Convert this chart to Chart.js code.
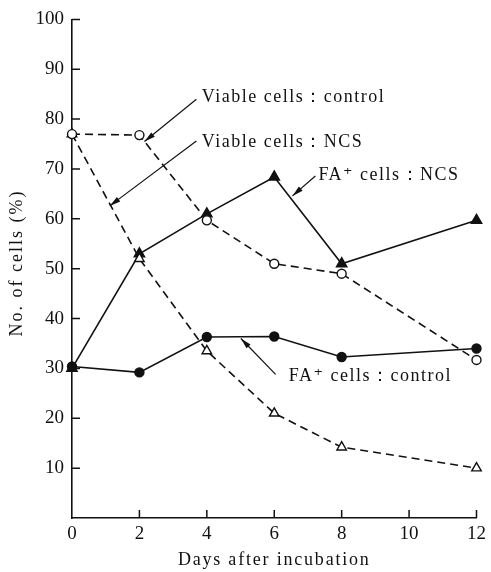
<!DOCTYPE html>
<html><head><meta charset="utf-8">
<script src="https://cdn.jsdelivr.net/npm/chart.js@4/dist/chart.umd.min.js"></script>
<style>html,body{margin:0;padding:0;background:#fff}#wrap{width:491px;height:572px}</style>
</head><body><div id="wrap"><canvas id="c" width="491" height="572"></canvas></div>
<script>
const days = [0, 2, 4, 6, 8, 12];
const viableControl = [77, 76.8, 59.7, 51, 49, 31.7];
const viableNCS = [77, 52, 33.5, 21, 14.2, 10];
const faNCS = [30, 53, 61, 68.4, 51, 59.7];
const faControl = [30.4, 29.2, 36.3, 36.4, 32.3, 34];
const xTicks = [0, 2, 4, 6, 8, 10, 12];
const yTicks = [10, 20, 30, 40, 50, 60, 70, 80, 90, 100];
const labels = ['Viable cells：control', 'Viable cells：NCS', 'FA⁺ cells：NCS', 'FA⁺ cells：control'];
const xTitle = 'Days after incubation';
const yTitle = 'No. of cells (%)';
// annotation anchors in data units: text start, arrow tail, arrow head
const notes = [
  {t: labels[0], tx: 3.85, ty: 84.3, ax: 3.69, ay: 84.0, hx: 2.15, hy: 75.5},
  {t: labels[1], tx: 3.85, ty: 75.3, ax: 3.69, ay: 75.6, hx: 1.12, hy: 62.6},
  {t: labels[2], tx: 7.31, ty: 68.8, ax: 7.22, ay: 68.6, hx: 6.54, hy: 64.6},
  {t: labels[3], tx: 6.43, ty: 28.4, ax: 6.04, ay: 28.8, hx: 5.01, hy: 36.0}
];
const FONT = '"Liberation Serif", "DejaVu Serif", serif';
const pts = arr => days.map((d, i) => ({x: d, y: arr[i]}));

const extras = {
  id: 'extras',
  afterDraw(chart) {
    const ctx = chart.ctx, xs = chart.scales.x, ys = chart.scales.y;
    const ca = chart.chartArea;
    ctx.save();
    ctx.strokeStyle = '#111'; ctx.lineWidth = 1.5;
    // inner ticks
    ctx.beginPath();
    yTicks.forEach(v => { const p = ys.getPixelForValue(v); ctx.moveTo(ca.left, p); ctx.lineTo(ca.left + 8, p); });
    xTicks.forEach(v => { if (v === 0) return; const p = xs.getPixelForValue(v); ctx.moveTo(p, ca.bottom); ctx.lineTo(p, ca.bottom - 8); });
    ctx.stroke();
    ctx.fillStyle = '#111';
    ctx.textBaseline = 'middle';
    // axis titles
    ctx.font = '18px ' + FONT;
    ctx.textAlign = 'center';
    try { ctx.letterSpacing = '1.8px'; } catch (e) {}
    ctx.fillText(xTitle, (ca.left + ca.right) / 2, 560);
    ctx.save();
    ctx.translate(17, 263);
    ctx.rotate(-Math.PI / 2);
    try { ctx.letterSpacing = '2px'; } catch (e) {}
    ctx.fillText(yTitle, 0, 0);
    ctx.restore();
    // annotations
    ctx.font = '18px ' + FONT;
    ctx.textAlign = 'left';
    try { ctx.letterSpacing = '1.5px'; } catch (e) {}
    notes.forEach(n => {
      ctx.fillText(n.t, xs.getPixelForValue(n.tx), ys.getPixelForValue(n.ty));
      const x1 = xs.getPixelForValue(n.ax), y1 = ys.getPixelForValue(n.ay);
      const x2 = xs.getPixelForValue(n.hx), y2 = ys.getPixelForValue(n.hy);
      ctx.lineWidth = 1.2;
      ctx.beginPath(); ctx.moveTo(x1, y1); ctx.lineTo(x2, y2); ctx.stroke();
      const a = Math.atan2(y2 - y1, x2 - x1), L = 11, W = 2.8;
      ctx.beginPath();
      ctx.moveTo(x2, y2);
      ctx.lineTo(x2 - L * Math.cos(a) + W * Math.sin(a), y2 - L * Math.sin(a) - W * Math.cos(a));
      ctx.lineTo(x2 - L * Math.cos(a) - W * Math.sin(a), y2 - L * Math.sin(a) + W * Math.cos(a));
      ctx.closePath(); ctx.fill();
    });
    ctx.restore();
  }
};

const base = {borderColor: '#111', pointBorderColor: '#111', borderWidth: 1.6, pointBorderWidth: 1.4, tension: 0, fill: false, clip: false};
new Chart(document.getElementById('c'), {
  type: 'line',
  data: {
    datasets: [
      Object.assign({}, base, {label: labels[0], data: pts(viableControl), borderDash: [8, 5], pointStyle: 'circle', pointRadius: 4.5, pointBackgroundColor: '#fff'}),
      Object.assign({}, base, {label: labels[1], data: pts(viableNCS), borderDash: [8, 5], pointStyle: 'triangle', pointRadius: 5.5, pointBackgroundColor: '#fff'}),
      Object.assign({}, base, {label: labels[2], data: pts(faNCS), pointStyle: 'triangle', pointRadius: 6, pointBackgroundColor: '#111'}),
      Object.assign({}, base, {label: labels[3], data: pts(faControl), pointStyle: 'circle', pointRadius: 4.5, pointBackgroundColor: '#111'})
    ]
  },
  options: {
    responsive: false, animation: false,
    layout: {padding: {top: 15, right: 8, left: 0, bottom: 0}},
    plugins: {legend: {display: false}, tooltip: {enabled: false}},
    scales: {
      x: {
        type: 'linear', min: 0, max: 12,
        afterBuildTicks: s => { s.ticks = xTicks.map(v => ({value: v})); },
        grid: {display: false, drawTicks: false},
        border: {display: true, color: '#111', width: 1.6},
        ticks: {color: '#111', font: {family: FONT, size: 19}, padding: 5},
        afterFit: s => { s.height = 54; }
      },
      y: {
        min: 0, max: 100,
        afterBuildTicks: s => { s.ticks = yTicks.map(v => ({value: v})); },
        grid: {display: false, drawTicks: false},
        border: {display: true, color: '#111', width: 1.6},
        ticks: {color: '#111', font: {family: FONT, size: 19}, padding: 8},
        afterFit: s => { s.width = 72; }
      }
    }
  },
  plugins: [extras]
});
</script></body></html>
